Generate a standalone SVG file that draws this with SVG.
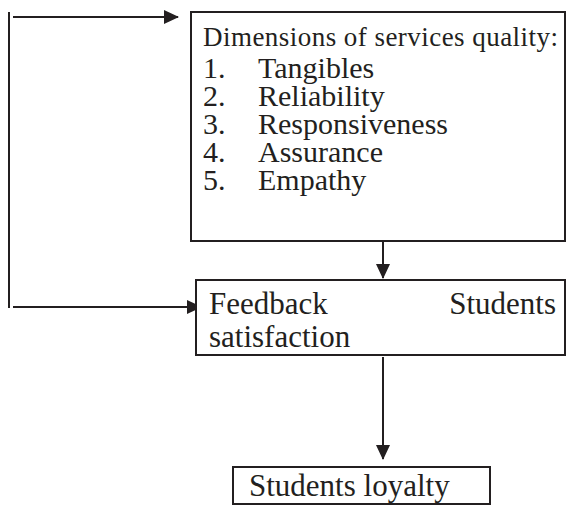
<svg xmlns="http://www.w3.org/2000/svg" width="566" height="506" viewBox="0 0 566 506">
  <style>
    .box { fill: #ffffff; stroke: #231f20; stroke-width: 2; }
    .line { fill: none; stroke: #231f20; stroke-width: 2; }
    .txt { font-family: "Liberation Serif", "Times New Roman", serif; fill: #231f20; }
    .head { font-size: 27px; }
    .item { font-size: 30px; }
    .big { font-size: 31px; }
  </style>
  <defs>
    <marker id="arrow" viewBox="0 0 15 14" refX="14" refY="7" markerWidth="15" markerHeight="14" markerUnits="userSpaceOnUse" orient="auto">
      <path d="M0,0 L15,7 L0,14 Z" fill="#231f20"/>
    </marker>
  </defs>

  <rect width="566" height="506" fill="#ffffff"/>

  <!-- connectors -->
  <g id="connectors">
    <line class="line" x1="9" y1="12" x2="9" y2="308"/>
    <line class="line" x1="13" y1="17" x2="178" y2="17" marker-end="url(#arrow)"/>
    <line class="line" x1="13" y1="307" x2="201" y2="307" marker-end="url(#arrow)"/>
    <line class="line" x1="383" y1="241" x2="383" y2="278" marker-end="url(#arrow)"/>
    <line class="line" x1="383" y1="357" x2="383" y2="459" marker-end="url(#arrow)"/>
  </g>

  <!-- service quality dimensions -->
  <g id="dimensions">
    <rect class="box" x="191" y="12" width="374" height="229"/>
    <text class="txt head" x="203" y="46" textLength="355" lengthAdjust="spacing">Dimensions of services quality:</text>
    <text class="txt item" x="203" y="78">1.</text>
    <text class="txt item" x="258" y="78">Tangibles</text>
    <text class="txt item" x="203" y="106">2.</text>
    <text class="txt item" x="258" y="106">Reliability</text>
    <text class="txt item" x="203" y="134">3.</text>
    <text class="txt item" x="258" y="134">Responsiveness</text>
    <text class="txt item" x="203" y="162">4.</text>
    <text class="txt item" x="258" y="162">Assurance</text>
    <text class="txt item" x="203" y="190">5.</text>
    <text class="txt item" x="258" y="190">Empathy</text>
  </g>

  <!-- feedback / satisfaction -->
  <g id="satisfaction">
    <rect class="box" x="196" y="280" width="369" height="75"/>
    <text class="txt big" x="209" y="314">Feedback</text>
    <text class="txt big" x="556" y="314" text-anchor="end">Students</text>
    <text class="txt big" x="209" y="347">satisfaction</text>
  </g>

  <!-- loyalty -->
  <g id="loyalty">
    <rect class="box" x="233" y="467" width="257" height="37"/>
    <text class="txt big" x="249" y="496">Students loyalty</text>
  </g>
</svg>
